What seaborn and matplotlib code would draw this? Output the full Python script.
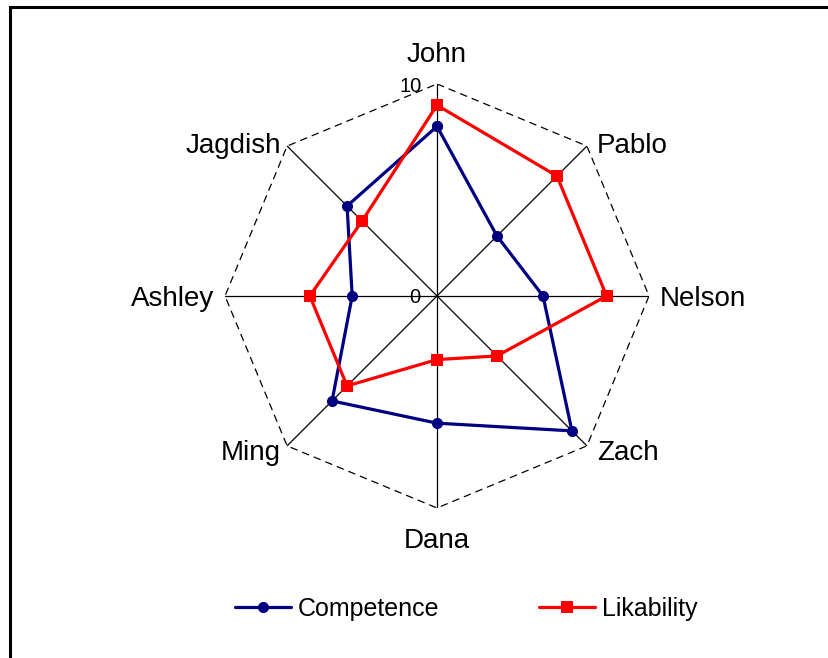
import numpy as np
import pandas as pd
import matplotlib
matplotlib.use('Agg')
import matplotlib.pyplot as plt
from matplotlib.patches import Rectangle
from matplotlib.lines import Line2D
import seaborn as sns

# Data
people = ['John', 'Pablo', 'Nelson', 'Zach', 'Dana', 'Ming', 'Ashley', 'Jagdish']
competence = [8, 4, 5, 9, 6, 7, 4, 6]
likability = [9, 8, 8, 4, 3, 6, 6, 5]
r_max = 10

sns.set_style('white')
plt.rcParams['font.family'] = ['Liberation Sans', 'DejaVu Sans']
plt.rcParams['text.color'] = 'black'

n = len(people)
angles = np.linspace(0, 2 * np.pi, n, endpoint=False)

# long-form table, each series closed back on its first point
rows = []
for name, vals in [('Competence', competence), ('Likability', likability)]:
    for a, v in zip(list(angles) + [2 * np.pi], vals + vals[:1]):
        rows.append({'theta': a, 'value': v, 'series': name})
df = pd.DataFrame(rows)

fig = plt.figure(figsize=(8.29, 6.58), dpi=100)
ax = fig.add_axes([0.2714, 0.228, 0.5115, 0.6444], projection='polar')
ax.set_theta_offset(np.pi / 2)
ax.set_theta_direction(-1)
ax.set_ylim(0, r_max)
ax.grid(False)
ax.set_xticks([])
ax.set_yticks([])
ax.spines['polar'].set_visible(False)
ax.set_facecolor('none')

# spokes and dashed octagon
for a in angles:
    ax.plot([a, a], [0, r_max], color='black', lw=0.9, zorder=1)
ring = list(angles) + [angles[0]]
ax.plot(ring, [r_max] * len(ring), color='black', lw=0.9, ls=(0, (6, 4)), zorder=1)

sns.lineplot(data=df, x='theta', y='value', hue='series', style='series',
             palette={'Competence': '#000080', 'Likability': '#FF0000'},
             markers={'Competence': 'o', 'Likability': 's'}, dashes=False,
             sort=False, lw=2.3, markersize=8, markeredgewidth=0,
             ax=ax, legend=False, zorder=3)
ax.set_xlabel('')
ax.set_ylabel('')

# category labels
offsets = {
    'John': (0, 22, 'center', 'baseline'),
    'Pablo': (10, 0, 'left', 'center'),
    'Nelson': (11, -3, 'left', 'center'),
    'Zach': (10, -7, 'left', 'center'),
    'Dana': (0, -20, 'center', 'top'),
    'Ming': (-6, -7, 'right', 'center'),
    'Ashley': (-11, -3, 'right', 'center'),
    'Jagdish': (-6, 0, 'right', 'center'),
}
for a, p in zip(angles, people):
    dx, dy, ha, va = offsets[p]
    ax.annotate(p, xy=(a, r_max), xytext=(dx, dy), textcoords='offset pixels',
                ha=ha, va=va, fontsize=20, color='black', annotation_clip=False)

# radial scale labels
ax.annotate('10', xy=(0, r_max), xytext=(-15, -3), textcoords='offset pixels',
            ha='right', va='center', fontsize=14.5, color='black', annotation_clip=False)
ax.annotate('0', xy=(0, 0), xytext=(-17, -2), textcoords='offset pixels',
            ha='right', va='center', fontsize=14.5, color='black', annotation_clip=False)

# legend
handles = [
    Line2D([], [], color='#000080', lw=2.3, marker='o', markersize=8, markeredgewidth=0),
    Line2D([], [], color='#FF0000', lw=2.3, marker='s', markersize=8, markeredgewidth=0),
]
leg = fig.legend(handles, ['Competence', 'Likability'], loc='center',
                 bbox_to_anchor=(466 / 829, 1 - 609 / 658), ncol=2, frameon=False,
                 fontsize=18, handlelength=2.25, handletextpad=0.25, columnspacing=4.0)
for t in leg.get_texts():
    t.set_color('black')

# chart-area border (only left and top edges are visible in the reference)
fig.add_artist(Rectangle((10 / 829, -0.1), 1.2, 1.1 - 7 / 658, transform=fig.transFigure,
                         fill=False, edgecolor='black', lw=2.2))

fig.savefig('out.png', dpi=100)
